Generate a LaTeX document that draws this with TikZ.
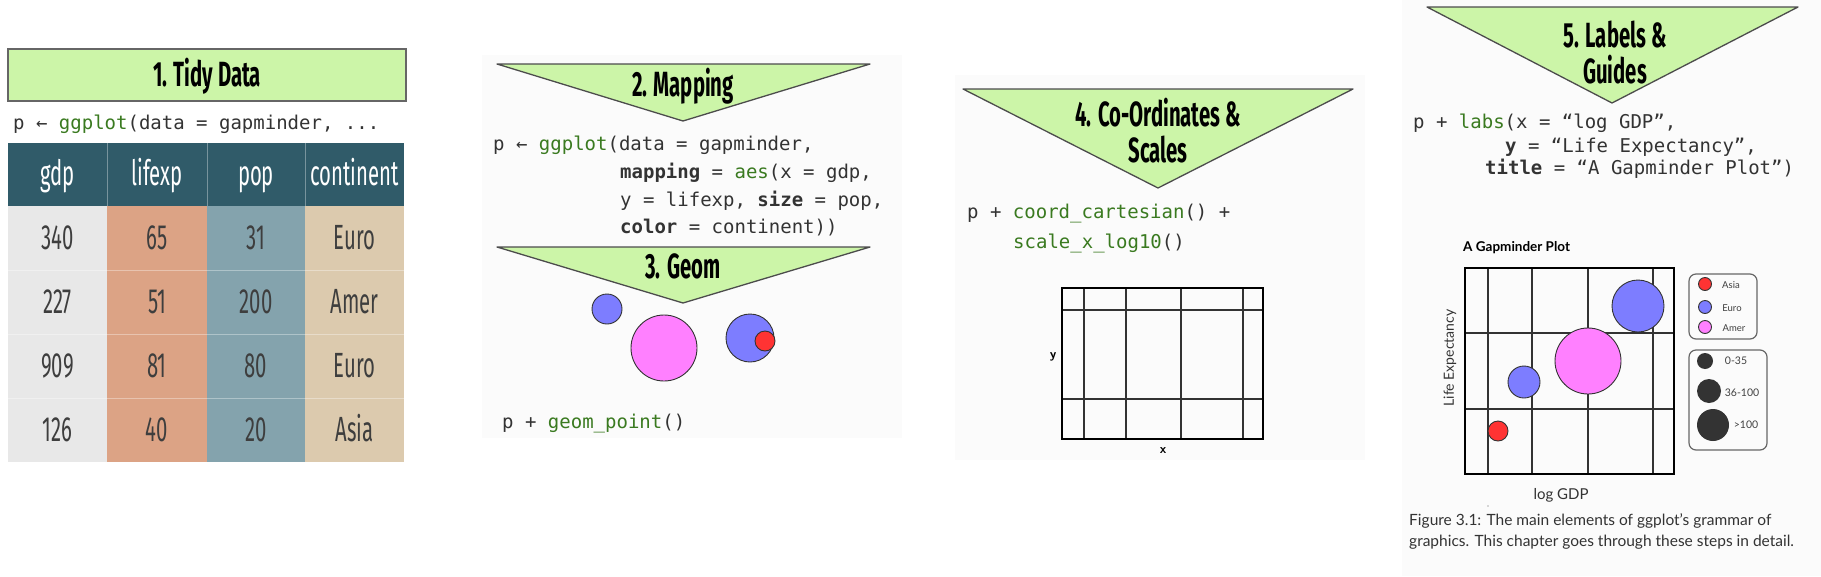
\documentclass[tikz,border=0pt]{standalone}
\usepackage{fontspec}
\setmainfont{Lato}
\setmonofont{DejaVu Sans Mono}
\newfontfamily\headfont[FakeStretch=0.58]{Fira Sans}
\usetikzlibrary{positioning}
\definecolor{StageGreen}{RGB}{204,245,168}
\definecolor{CodeGreen}{RGB}{58,122,32}
\definecolor{CodeGray}{RGB}{51,51,51}
\definecolor{TabHead}{RGB}{48,91,105}
\definecolor{ColGdp}{RGB}{232,232,232}
\definecolor{ColLife}{RGB}{220,163,133}
\definecolor{ColPop}{RGB}{132,163,173}
\definecolor{ColCont}{RGB}{220,202,174}
\definecolor{TabText}{RGB}{62,62,62}
\definecolor{PtBlue}{RGB}{125,125,255}
\definecolor{PtPink}{RGB}{255,128,255}
\definecolor{PtRed}{RGB}{255,51,51}
\definecolor{PanelBg}{RGB}{251,251,251}
\tikzset{
  stage/.style={draw=black!70, line width=1.3pt, fill=StageGreen, line join=round},
  headtxt/.style={font=\headfont\bfseries\fontsize{35}{36}\selectfont, align=center, inner sep=0, anchor=base},
  cellhead/.style={font=\headfont\fontsize{35}{36}\selectfont, text=white, inner sep=0, anchor=base},
  cellbody/.style={font=\headfont\fontsize{35}{36}\selectfont, text=TabText, inner sep=0, anchor=base},
  codeline/.style={font=\ttfamily\fontsize{19}{23}\selectfont, text=CodeGray, inner sep=0, anchor=base west},
  sepline/.style={white, opacity=0.35, line width=1pt},
  pt/.style={draw=black!80, line width=0.9pt},
  gridout/.style={draw=black, line width=2pt},
  gridin/.style={draw=black!80, line width=1.2pt},
  legbox/.style={draw=black!60, line width=1.2pt, rounded corners=7pt},
  legtxt/.style={font=\fontsize{9.5}{10}\selectfont, text=black!75, inner sep=0},
}
\newcommand{\fn}[1]{\textcolor{CodeGreen}{#1}}
\begin{document}
\begin{tikzpicture}[x=1pt,y=-1pt]
\useasboundingbox (0,0) rectangle (1821,576);

% faint panel backgrounds
\fill[PanelBg] (482,55) rectangle (902,438);
\fill[PanelBg] (955,75) rectangle (1365,460);
\fill[PanelBg] (1402,0) rectangle (1821,576);

% 1. tidy data
\draw[draw=black!60, line width=1.5pt, fill=StageGreen] (8,49) rectangle (406,101);
\node[headtxt] (tidy) at (207,86) {1. Tidy Data};
\node[codeline] (code1) at (13,129) {p ← \fn{ggplot}(data = gapminder, ...};

\fill[TabHead] (8,143) rectangle (404,206);
\foreach \lx/\rx/\colfill/\head [count=\i] in {8/107/ColGdp/gdp, 107/207/ColLife/lifexp, 207/305/ColPop/pop, 305/404/ColCont/continent}{
  \fill[\colfill] (\lx,206) rectangle (\rx,462);
  \node[cellhead] (head\i) at ({(\lx+\rx)/2},185) {\head};
}
\foreach \xx in {107,207,305} \draw[sepline] (\xx,143) -- (\xx,206);
\foreach \yy in {270,334,398} \draw[sepline] (8,\yy) -- (404,\yy);
\foreach \va/\vb/\vc/\vd [count=\r] in {340/65/31/Euro, 227/51/200/Amer, 909/81/80/Euro, 126/40/20/Asia}{
  \pgfmathsetmacro{\yb}{206+64*\r-32+11.5}
  \node[cellbody] (cell\r-1) at (57.5,\yb) {\va};
  \node[cellbody] (cell\r-2) at (157,\yb) {\vb};
  \node[cellbody] (cell\r-3) at (256,\yb) {\vc};
  \node[cellbody] (cell\r-4) at (354.5,\yb) {\vd};
}

% 2. mapping
\draw[stage] (497,64) -- (870,64) -- (683,121) -- cycle;
\node[headtxt] (mapping) at (683,96) {2. Mapping};
\node[codeline] (code2a) at (493,150) {p ← \fn{ggplot}(data = gapminder,};
\node[codeline] (code2b) at (620,178) {\textbf{mapping} = \fn{aes}(x = gdp,};
\node[codeline] (code2c) at (620,206) {y = lifexp, \textbf{size} = pop,};
\node[codeline] (code2d) at (620,233) {\textbf{color} = continent))};

% 3. geom
\draw[stage] (497,247) -- (870,247) -- (683,303) -- cycle;
\node[headtxt] (geom) at (683,278) {3. Geom};
\draw[pt, fill=PtBlue] (607,309) circle (15);
\draw[pt, fill=PtPink] (664,348) circle (33);
\draw[pt, fill=PtBlue] (750,338) circle (24);
\draw[pt, fill=PtRed] (765,341) circle (10);
\node[codeline] (code3) at (502,428) {p + \fn{geom\_point}()};

% 4. co-ordinates & scales
\draw[stage] (963,89) -- (1353,89) -- (1158,188) -- cycle;
\node[headtxt] (coord) at (1158,162) {4. Co-Ordinates \&\\[0pt]Scales};
\node[codeline] (code4a) at (967,218) {p + \fn{coord\_cartesian}() +};
\node[codeline] (code4b) at (1013,248) {\fn{scale\_x\_log10}()};
\foreach \xx in {1084,1126,1181,1243} \draw[gridin] (\xx,288) -- (\xx,439);
\foreach \yy in {310,399} \draw[gridin] (1062,\yy) -- (1263,\yy);
\draw[gridout] (1062,288) rectangle (1263,439);
\node[font=\sffamily\bfseries\fontsize{13}{13}\selectfont] (ylab4) at (1053,357) {y};
\node[font=\sffamily\bfseries\fontsize{13}{13}\selectfont] (xlab4) at (1163,451) {x};

% 5. labels & guides
\draw[stage] (1427,7) -- (1798,7) -- (1612,103) -- cycle;
\node[headtxt] (labels) at (1615,83) {5. Labels \&\\[0pt]Guides};
\node[codeline] (code5a) at (1413,128) {p + \fn{labs}(x = “log GDP”,};
\node[codeline] (code5b) at (1505,152) {\textbf{y} = “Life Expectancy”,};
\node[codeline] (code5c) at (1485,174) {\textbf{title} = “A Gapminder Plot”)};

\node[font=\bfseries\fontsize{13.5}{14}\selectfont, anchor=base west, inner sep=0] (ptitle) at (1463,251) {A Gapminder Plot};
\foreach \xx in {1488,1532,1588,1653} \draw[gridin] (\xx,268) -- (\xx,474);
\foreach \yy in {333,409} \draw[gridin] (1465,\yy) -- (1674,\yy);
\draw[gridout] (1465,268) rectangle (1674,474);
\draw[pt, fill=PtRed] (1498,431) circle (10);
\draw[pt, fill=PtBlue] (1524,382) circle (16);
\draw[pt, fill=PtPink] (1588,361) circle (33);
\draw[pt, fill=PtBlue] (1638,306) circle (26);
\node[font=\fontsize{14}{14}\selectfont, rotate=90, text=black!80] (ylab5) at (1450,358) {Life Expectancy};
\node[font=\fontsize{15}{15}\selectfont, text=black!80] (xlab5) at (1561,495) {log GDP};

\draw[legbox] (1689,274) rectangle (1757,339);
\draw[pt, fill=PtRed] (1705,284) circle (6.5);
\draw[pt, fill=PtBlue] (1705,307) circle (6.5);
\draw[pt, fill=PtPink] (1705,327) circle (6.5);
\node[legtxt] (kasia) at (1731,285) {Asia};
\node[legtxt] (keuro) at (1732,308) {Euro};
\node[legtxt] (kamer) at (1734,328) {Amer};

\draw[legbox] (1689,350) rectangle (1767,450);
\fill[black!80] (1705,361) circle (8);
\fill[black!80] (1709,391) circle (12);
\fill[black!80] (1713,425) circle (16);
\node[legtxt, font=\fontsize{10.5}{11}\selectfont] (ksmall) at (1736,361) {0-35};
\node[legtxt, font=\fontsize{10.5}{11}\selectfont] (kmid) at (1742,393) {36-100};
\node[legtxt, font=\fontsize{10.5}{11}\selectfont] (kbig) at (1746,425) {>100};
\fill[black!30] (1488,506) circle (0.8);

\node[font=\fontsize{15.5}{21}\selectfont, text=black!80, align=left, anchor=base west, inner sep=0] (caption) at (1409,546)
  {Figure 3.1: The main elements of ggplot’s grammar of\\graphics. This chapter goes through these steps in detail.};
\end{tikzpicture}
\end{document}
